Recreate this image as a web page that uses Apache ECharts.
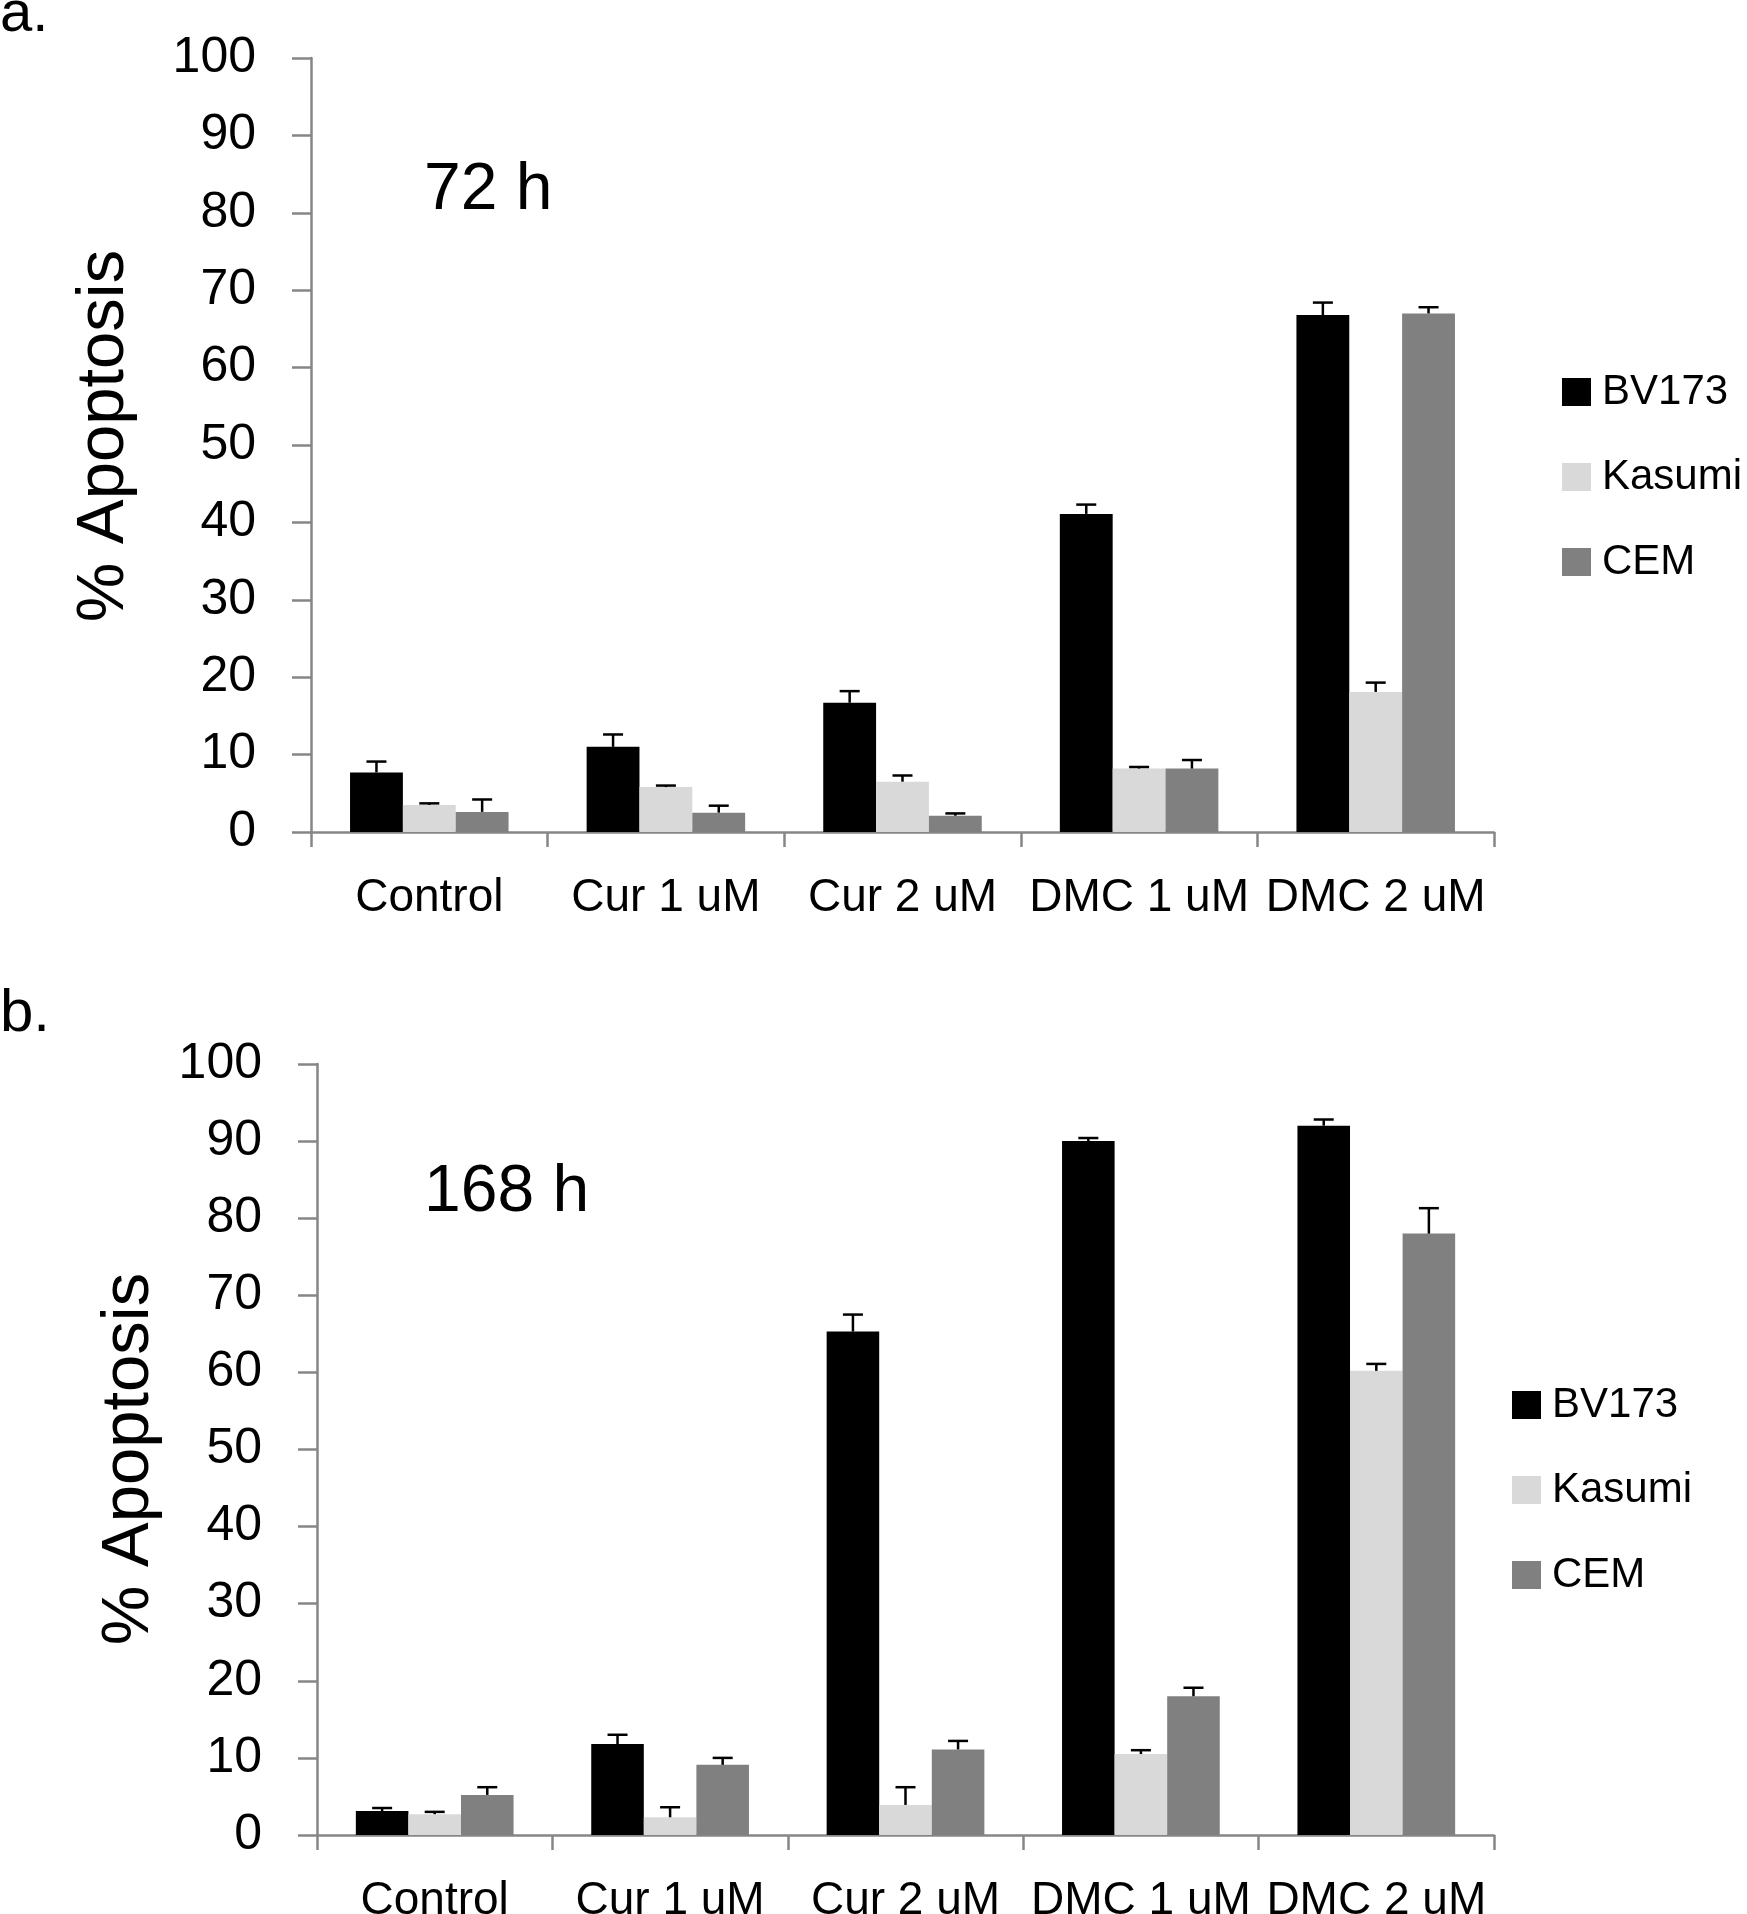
<!DOCTYPE html>
<html>
<head>
<meta charset="utf-8">
<script src="https://cdn.jsdelivr.net/npm/echarts@6/dist/echarts.min.js"></script>
<style>
html,body{margin:0;padding:0;background:#fff;}
#c{width:1747px;height:1914px;}
</style>
</head>
<body>
<div id="c"></div>
<script>
const categories = ['Control', 'Cur 1 uM', 'Cur 2 uM', 'DMC 1 uM', 'DMC 2 uM'];
const seriesNames = ['BV173', 'Kasumi', 'CEM'];
const yTicks = [0, 10, 20, 30, 40, 50, 60, 70, 80, 90, 100];

// Panel a: 72 h
const a_BV173 = [7.7, 11.0, 16.7, 41.1, 66.8];
const a_BV173_sd = [1.4, 1.6, 1.5, 1.2, 1.6];
const a_Kasumi = [3.5, 5.8, 6.5, 8.2, 18.1];
const a_Kasumi_sd = [0.2, 0.2, 0.8, 0.2, 1.2];
const a_CEM = [2.6, 2.5, 2.1, 8.2, 67.0];
const a_CEM_sd = [1.6, 0.9, 0.3, 1.1, 0.8];

// Panel b: 168 h
const b_BV173 = [3.1, 11.8, 65.3, 90.0, 92.0];
const b_BV173_sd = [0.4, 1.2, 2.2, 0.4, 0.8];
const b_Kasumi = [2.7, 2.3, 3.9, 10.5, 60.2];
const b_Kasumi_sd = [0.3, 1.3, 2.3, 0.5, 0.9];
const b_CEM = [5.2, 9.1, 11.1, 18.0, 78.0];
const b_CEM_sd = [1.0, 0.9, 1.1, 1.1, 3.3];

const colors = ['#000000', '#d9d9d9', '#808080'];
const FONT = '"Liberation Sans", Arial, sans-serif';
const AXIS_COLOR = '#868686';
const CAT_GAP = 0.33;

const panels = [
  {vals: [a_BV173, a_Kasumi, a_CEM], sds: [a_BV173_sd, a_Kasumi_sd, a_CEM_sd]},
  {vals: [b_BV173, b_Kasumi, b_CEM], sds: [b_BV173_sd, b_Kasumi_sd, b_CEM_sd]}
];

const grids = [
  {left: 311, right: 253, top: 58, height: 774, outerBoundsMode: 'none', containLabel: false},
  {left: 317, right: 253, top: 1064, height: 771, outerBoundsMode: 'none', containLabel: false}
];

const xAxes = grids.map((g, i) => ({
  type: 'category', gridIndex: i, data: categories,
  axisLine: {lineStyle: {color: AXIS_COLOR, width: 2.5}},
  axisTick: {show: true, length: 15, lineStyle: {color: AXIS_COLOR, width: 2.5}},
  axisLabel: {color: '#000', fontSize: 46, fontFamily: FONT, margin: 43, interval: 0},
  splitLine: {show: false}
}));

const yAxes = grids.map((g, i) => ({
  type: 'value', gridIndex: i, min: 0, max: 100, interval: 10,
  axisLine: {show: true, lineStyle: {color: AXIS_COLOR, width: 2.5}},
  axisTick: {show: true, length: 19, lineStyle: {color: AXIS_COLOR, width: 2.5}},
  axisLabel: {color: '#000', fontSize: 50, fontFamily: FONT, margin: 55,
    formatter: v => yTicks.indexOf(v) >= 0 ? String(v) : ''},
  splitLine: {show: false}
}));

const series = [];
panels.forEach((p, pi) => {
  seriesNames.forEach((name, si) => {
    series.push({
      type: 'bar', name: name, xAxisIndex: pi, yAxisIndex: pi,
      data: p.vals[si], barGap: '0%', barCategoryGap: (CAT_GAP * 100) + '%',
      itemStyle: {color: colors[si]}, z: 2
    });
  });
  seriesNames.forEach((name, si) => {
    series.push({
      type: 'custom', name: name + ' err', xAxisIndex: pi, yAxisIndex: pi, z: 5,
      silent: true,
      data: p.vals[si].map((v, k) => [k, v, p.sds[si][k]]),
      renderItem: function (params, api) {
        const k = api.value(0), v = api.value(1), sd = api.value(2);
        const top = api.coord([k, v]);
        const hi = api.coord([k, v + sd]);
        const band = api.size([1, 0])[0];
        const bw = band * (1 - CAT_GAP) / 3;
        const x = top[0] + (si - 1) * bw;
        const cap = 10;
        const st = {stroke: '#000', lineWidth: 2.5};
        return {type: 'group', children: [
          {type: 'line', shape: {x1: x, y1: top[1], x2: x, y2: hi[1]}, style: st},
          {type: 'line', shape: {x1: x - cap, y1: hi[1], x2: x + cap, y2: hi[1]}, style: st}
        ]};
      }
    });
  });
});

const legends = [
  {left: 1562, top: 371},
  {left: 1512, top: 1384}
].map(l => ({
  left: l.left, top: l.top, orient: 'vertical', icon: 'rect', padding: 0,
  itemWidth: 29, itemHeight: 28, itemGap: 43,
  data: seriesNames,
  selectedMode: false,
  textStyle: {color: '#000', fontSize: 42, fontFamily: FONT, padding: [0, 0, 0, 6]}
}));

function txt(text, x, y, size, rot) {
  return {
    type: 'text', x: x, y: y, rotation: rot || 0,
    style: {text: text, x: 0, y: 0, font: size + 'px ' + FONT, fill: '#000',
      textAlign: rot ? 'center' : 'left', textVerticalAlign: 'middle'}
  };
}

const option = {
  animation: false,
  backgroundColor: '#fff',
  grid: grids,
  xAxis: xAxes,
  yAxis: yAxes,
  legend: legends,
  series: series,
  graphic: [
    txt('a.', 0, 15, 58),
    txt('b.', 0, 1014, 60),
    txt('72 h', 424, 191, 66),
    txt('168 h', 424, 1193, 66),
    txt('% Apoptosis', 105, 436, 67, Math.PI / 2),
    txt('% Apoptosis', 130, 1459, 67, Math.PI / 2)
  ]
};

const chart = echarts.init(document.getElementById('c'), null, {renderer: 'canvas'});
chart.setOption(option);
</script>
</body>
</html>
